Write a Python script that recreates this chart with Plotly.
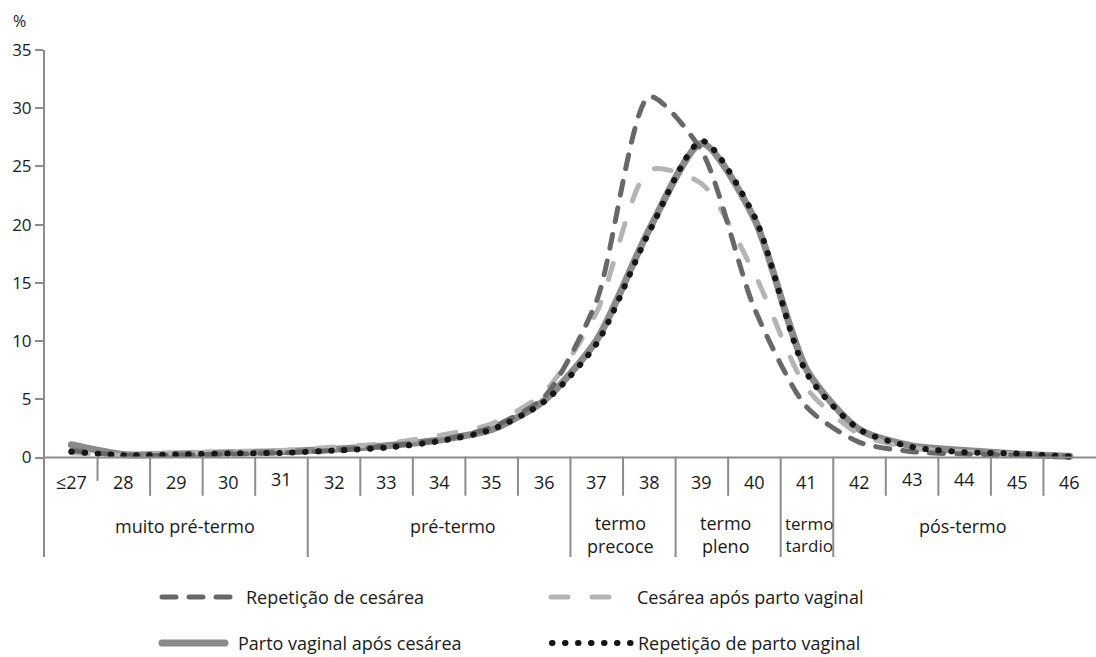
import plotly.graph_objects as go

# ---------------- data ----------------
weeks = ["≤27", "28", "29", "30", "31", "32", "33", "34", "35", "36",
         "37", "38", "39", "40", "41", "42", "43", "44", "45", "46"]

rep_cesarea = [0.6, 0.2, 0.2, 0.3, 0.4, 0.6, 1.0, 1.5, 2.6, 5.2,
               13.5, 31.0, 26.3, 12.8, 4.3, 1.3, 0.5, 0.3, 0.2, 0.1]
cesarea_apos_vaginal = [0.4, 0.2, 0.4, 0.5, 0.6, 0.9, 1.2, 1.9, 2.9, 5.6,
                        12.5, 24.7, 23.5, 15.8, 5.9, 2.0, 0.8, 0.5, 0.3, 0.1]
vaginal_apos_cesarea = [1.1, 0.25, 0.3, 0.4, 0.5, 0.7, 1.0, 1.5, 2.4, 4.9,
                        10.1, 19.6, 27.0, 20.5, 7.5, 2.4, 1.0, 0.6, 0.3, 0.1]
rep_vaginal = [0.5, 0.2, 0.25, 0.35, 0.4, 0.6, 0.85, 1.4, 2.4, 4.8,
               9.8, 19.4, 27.2, 20.7, 7.2, 2.4, 0.9, 0.45, 0.33, 0.07]

y_ticks = [0, 5, 10, 15, 20, 25, 30, 35]

groups = ["muito pré-termo", "pré-termo", "termo<br>precoce",
          "termo<br>pleno", "termo<br>tardio", "pós-termo"]
group_label_pos = [2.16, 7.26, 10.45, 12.45, 14.04, 16.97]
short_separators = [1.5, 2.5, 3.5, 5.5, 6.5, 7.5, 8.5, 10.5, 12.5, 15.5, 16.5, 17.5, 18.5]
first_separator = 0.5
long_separators = [4.5, 9.5, 11.5, 13.5, 14.5]

# ---------------- geometry helpers ----------------
W, H = 1096, 657
L, R, T, B = 45, 1096, 50, 557
Y0 = 457.5
PPU = (Y0 - T) / 35.0


def val_y(p):
    return (Y0 - p) / PPU


def px_x(p):
    return (p - L) / (R - L)


def px_y(p):
    return (B - p) / (B - T)


FONT = "Open Sans"
TXT = "#1a1a1a"
AX = "#8c8c8c"

styles = {
    "Repetição de cesárea": dict(color="#686868", width=5, dash="14px,13px"),
    "Cesárea após parto vaginal": dict(color="#b4b4b4", width=5, dash="17px,24px"),
    "Parto vaginal após cesárea": dict(color="#8a8a8a", width=7, dash="solid"),
    "Repetição de parto vaginal": dict(color="#161616", width=6, dash="0.5px,12.5px"),
}
values = {
    "Repetição de cesárea": rep_cesarea,
    "Cesárea após parto vaginal": cesarea_apos_vaginal,
    "Parto vaginal após cesárea": vaginal_apos_cesarea,
    "Repetição de parto vaginal": rep_vaginal,
}

fig = go.Figure()
for name in ["Parto vaginal após cesárea", "Cesárea após parto vaginal",
             "Repetição de cesárea", "Repetição de parto vaginal"]:
    fig.add_trace(go.Scatter(
        x=weeks, y=values[name], name=name, mode="lines",
        line=dict(shape="spline", smoothing=0.7, **styles[name]),
        showlegend=False, hoverinfo="skip",
    ))

shapes = []
shapes.append(dict(type="line", xref="x", yref="y", x0=-0.5, x1=19.6, y0=0, y1=0,
                   line=dict(color=AX, width=2)))
shapes.append(dict(type="line", xref="x", yref="y", x0=first_separator, x1=first_separator,
                   y0=0, y1=val_y(480), line=dict(color=AX, width=2)))
for s in short_separators:
    shapes.append(dict(type="line", xref="x", yref="y", x0=s, x1=s, y0=0, y1=val_y(495),
                       line=dict(color=AX, width=2)))
for s in long_separators:
    shapes.append(dict(type="line", xref="x", yref="y", x0=s, x1=s, y0=0, y1=val_y(B),
                       line=dict(color=AX, width=2)))

annotations = []
raised = {"31", "43", "44"}
for i, w in enumerate(weeks):
    annotations.append(dict(x=i, y=val_y(482), xref="x", yref="y", text=w, showarrow=False,
                            xanchor="center", yanchor="middle",
                            yshift=3 if w in raised else 0,
                            font=dict(family=FONT, size=18, color=TXT)))
for g, gx in zip(groups, group_label_pos):
    two = "<br>" in g
    annotations.append(dict(x=gx, y=val_y(534 if two else 526), xref="x", yref="y", text=g,
                            showarrow=False, xanchor="center", yanchor="middle",
                            font=dict(family=FONT, size=17 if "tardio" in g else 18, color=TXT)))
annotations.append(dict(x=px_x(19), y=px_y(21), xref="paper", yref="paper", text="%",
                        showarrow=False, xanchor="center", yanchor="middle",
                        font=dict(family=FONT, size=16, color=TXT)))

legend_layout = [
    ("Repetição de cesárea", 162, 234, 244, 597),
    ("Cesárea após parto vaginal", 551, 628, 635, 597),
    ("Parto vaginal após cesárea", 162, 225, 236, 643),
    ("Repetição de parto vaginal", 552, 631, 636, 643),
]
for name, sx0, sx1, tx, ty in legend_layout:
    st = styles[name]
    shapes.append(dict(type="line", xref="paper", yref="paper",
                       x0=px_x(sx0), x1=px_x(sx1), y0=px_y(ty), y1=px_y(ty),
                       line=dict(color=st["color"], width=st["width"], dash=st["dash"])))
    annotations.append(dict(x=px_x(tx), y=px_y(ty), xref="paper", yref="paper", text=name,
                            xanchor="left", yanchor="middle", showarrow=False,
                            font=dict(family=FONT, size=18, color=TXT)))

fig.update_layout(
    width=W, height=H,
    margin=dict(l=L, r=W - R, t=T, b=H - B, pad=0),
    paper_bgcolor="white", plot_bgcolor="white",
    xaxis=dict(visible=False, range=[-0.5, 19.5], type="category"),
    yaxis=dict(range=[val_y(B), 35], tickvals=y_ticks, ticktext=[str(v) for v in y_ticks],
               showgrid=False, zeroline=False, showline=True, linecolor=AX, linewidth=2,
               ticks="outside", ticklen=8, tickwidth=2, tickcolor=AX,
               tickfont=dict(family=FONT, size=17, color=TXT)),
    shapes=shapes, annotations=annotations, showlegend=False,
)

post = """
document.body.style.margin = '0';
document.body.style.padding = '0';
var s = document.createElement('style');
s.textContent = '.js-line, .shapelayer path { stroke-linecap: round !important; }';
document.head.appendChild(s);
"""
fig.write_html("out.html", post_script=post, config={"displayModeBar": False})
